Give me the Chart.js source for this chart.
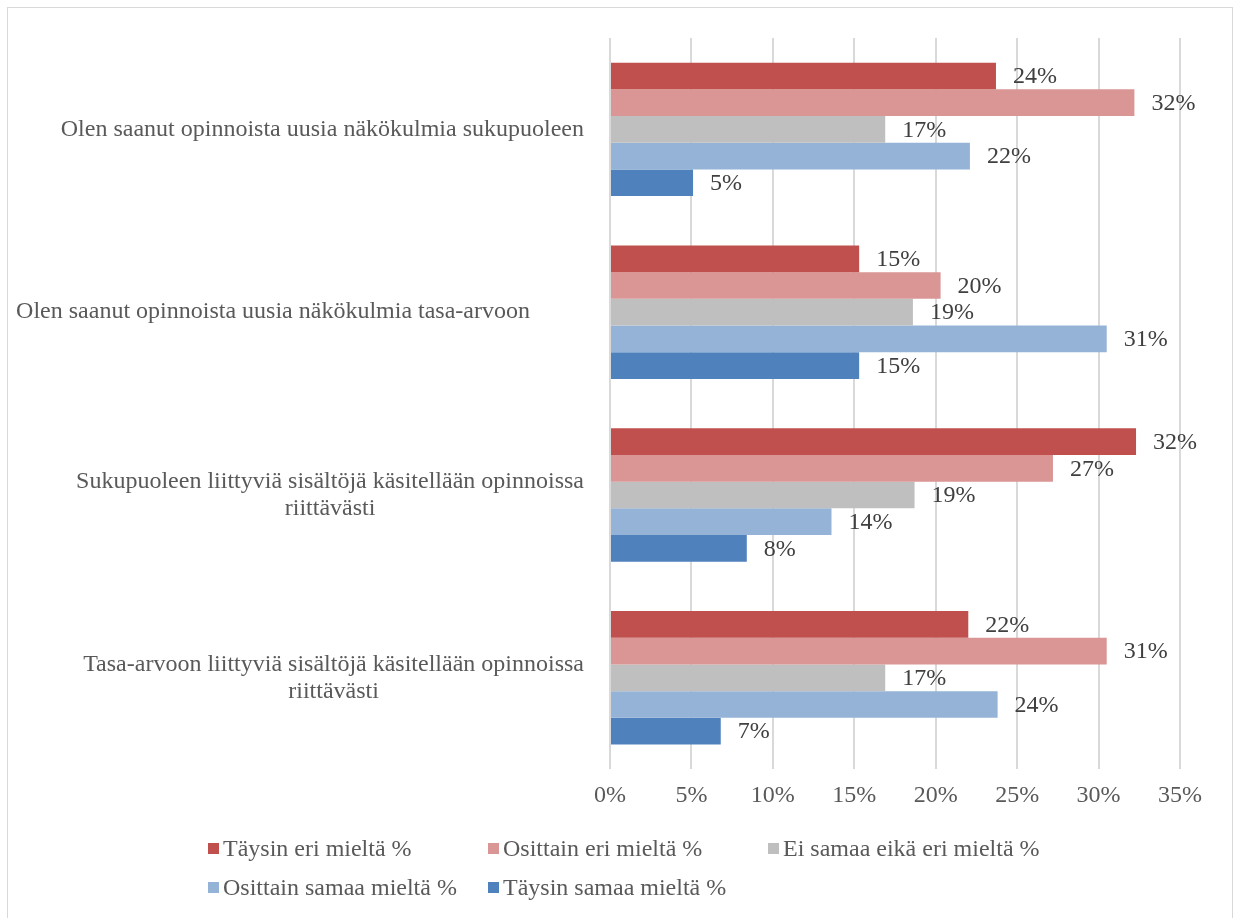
<!DOCTYPE html>
<html lang="fi">
<head>
<meta charset="utf-8">
<script src="https://cdn.jsdelivr.net/npm/chart.js@4/dist/chart.umd.min.js"></script>
<style>
    html, body { margin: 0; padding: 0; background: #fff; }
    .frame {
        position: absolute; left: 7px; top: 7px; width: 1226px; height: 940px;
        border: 1px solid #d9d9d9; box-sizing: border-box; overflow: hidden;
    }
    #chart { position: absolute; left: 0; top: 0; }
    .legend {
        position: absolute; left: 200px; top: 827px; width: 900px;
        display: grid; grid-template-columns: 280px 280px 280px; row-gap: 13px;
        font-family: "Liberation Serif", "Times New Roman", serif; font-size: 24px; color: #595959;
    }
    .legend div { display: flex; align-items: center; height: 26px; white-space: nowrap; }
    .legend span.box { width: 11px; height: 11px; margin-right: 4px; display: inline-block; }
</style>
</head>
<body>
<div class="frame">
    <canvas id="chart" width="1224" height="828"></canvas>
    <div class="legend" id="legend"></div>
</div>
<script>
    const categories = [
        ['Olen saanut opinnoista uusia näkökulmia sukupuoleen'],
        ['Olen saanut opinnoista uusia näkökulmia tasa-arvoon\u00a0\u00a0\u00a0\u00a0\u00a0\u00a0\u00a0\u00a0\u00a0'],
        ['Sukupuoleen liittyviä sisältöjä käsitellään opinnoissa', 'riittävästi'],
        ['Tasa-arvoon liittyviä sisältöjä käsitellään opinnoissa', 'riittävästi']
    ];
    const seriesNames = [
        'Täysin eri mieltä %',
        'Osittain eri mieltä %',
        'Ei samaa eikä eri mieltä %',
        'Osittain samaa mieltä %',
        'Täysin samaa mieltä %'
    ];
    // one array per answer option, in category order
    const taysinEri = [23.7, 15.3, 32.3, 22.0];
    const osittainEri = [32.2, 20.3, 27.2, 30.5];
    const eiSamaaEikaEri = [16.9, 18.6, 18.7, 16.9];
    const osittainSamaa = [22.1, 30.5, 13.6, 23.8];
    const taysinSamaa = [5.1, 15.3, 8.4, 6.8];
    const xTicks = [0, 5, 10, 15, 20, 25, 30, 35];

    const colors = ['#C0504D', '#D99694', '#BFBFBF', '#95B3D7', '#4F81BD'];
    const seriesData = [taysinEri, osittainEri, eiSamaaEikaEri, osittainSamaa, taysinSamaa];
    const FONT = '"Liberation Serif", "Times New Roman", serif';

    // value labels just past the end of each bar
    const valueLabels = {
        id: 'valueLabels',
        afterDatasetsDraw(chart) {
            const ctx = chart.ctx;
            ctx.save();
            ctx.font = '24px ' + FONT;
            ctx.fillStyle = '#404040';
            ctx.textAlign = 'left';
            ctx.textBaseline = 'middle';
            chart.data.datasets.forEach((ds, i) => {
                chart.getDatasetMeta(i).data.forEach((bar, j) => {
                    ctx.fillText(Math.round(ds.data[j]) + '%', bar.x + 17, bar.y + 1);
                });
            });
            ctx.restore();
        }
    };

    // category labels, each block right-aligned to the axis, lines centred within it
    const categoryLabels = {
        id: 'categoryLabels',
        afterDraw(chart) {
            const ctx = chart.ctx;
            const yScale = chart.scales.y;
            const right = chart.chartArea.left - 26;
            const lineH = 27;
            ctx.save();
            ctx.font = '24px ' + FONT;
            ctx.fillStyle = '#595959';
            ctx.textAlign = 'center';
            ctx.textBaseline = 'middle';
            categories.forEach((lines, i) => {
                const y = yScale.getPixelForTick(i);
                const w = Math.max(...lines.map(l => ctx.measureText(l).width));
                const cx = right - w / 2;
                const y0 = y - (lines.length - 1) * lineH / 2;
                lines.forEach((l, k) => {
                    ctx.textAlign = 'left';
                    const lw = ctx.measureText(l).width;
                    ctx.fillText(l, cx - lw / 2, y0 + k * lineH);
                });
            });
            ctx.restore();
        }
    };

    const chart = new Chart(document.getElementById('chart'), {
        type: 'bar',
        data: {
            labels: categories.map(c => c.join(' ').trim()),
            datasets: seriesNames.map((name, i) => ({
                label: name,
                data: seriesData[i],
                backgroundColor: colors[i],
                borderWidth: 0,
                categoryPercentage: 0.73,
                barPercentage: 1
            }))
        },
        options: {
            indexAxis: 'y',
            responsive: false,
            animation: false,
            layout: { padding: { top: 30, right: 52, bottom: 14, left: 0 } },
            plugins: {
                legend: { display: false },
                tooltip: { enabled: false }
            },
            scales: {
                x: {
                    min: 0,
                    max: 35,
                    afterBuildTicks: scale => { scale.ticks = xTicks.map(v => ({ value: v })); },
                    grid: { color: '#d9d9d9', lineWidth: 2, drawTicks: false },
                    border: { display: false },
                    ticks: {
                        padding: 12,
                        color: '#595959',
                        font: { family: FONT, size: 24 },
                        callback: v => v + '%'
                    }
                },
                y: {
                    grid: { display: false },
                    border: { display: false },
                    ticks: { display: false },
                    afterFit: scale => { scale.width = 602; }
                }
            }
        },
        plugins: [valueLabels, categoryLabels]
    });

    const legendDiv = document.getElementById('legend');
    seriesNames.forEach((name, i) => {
        const item = document.createElement('div');
        item.innerHTML = `<span class="box" style="background:${colors[i]}"></span>${name}`;
        legendDiv.appendChild(item);
    });
</script>
</body>
</html>
